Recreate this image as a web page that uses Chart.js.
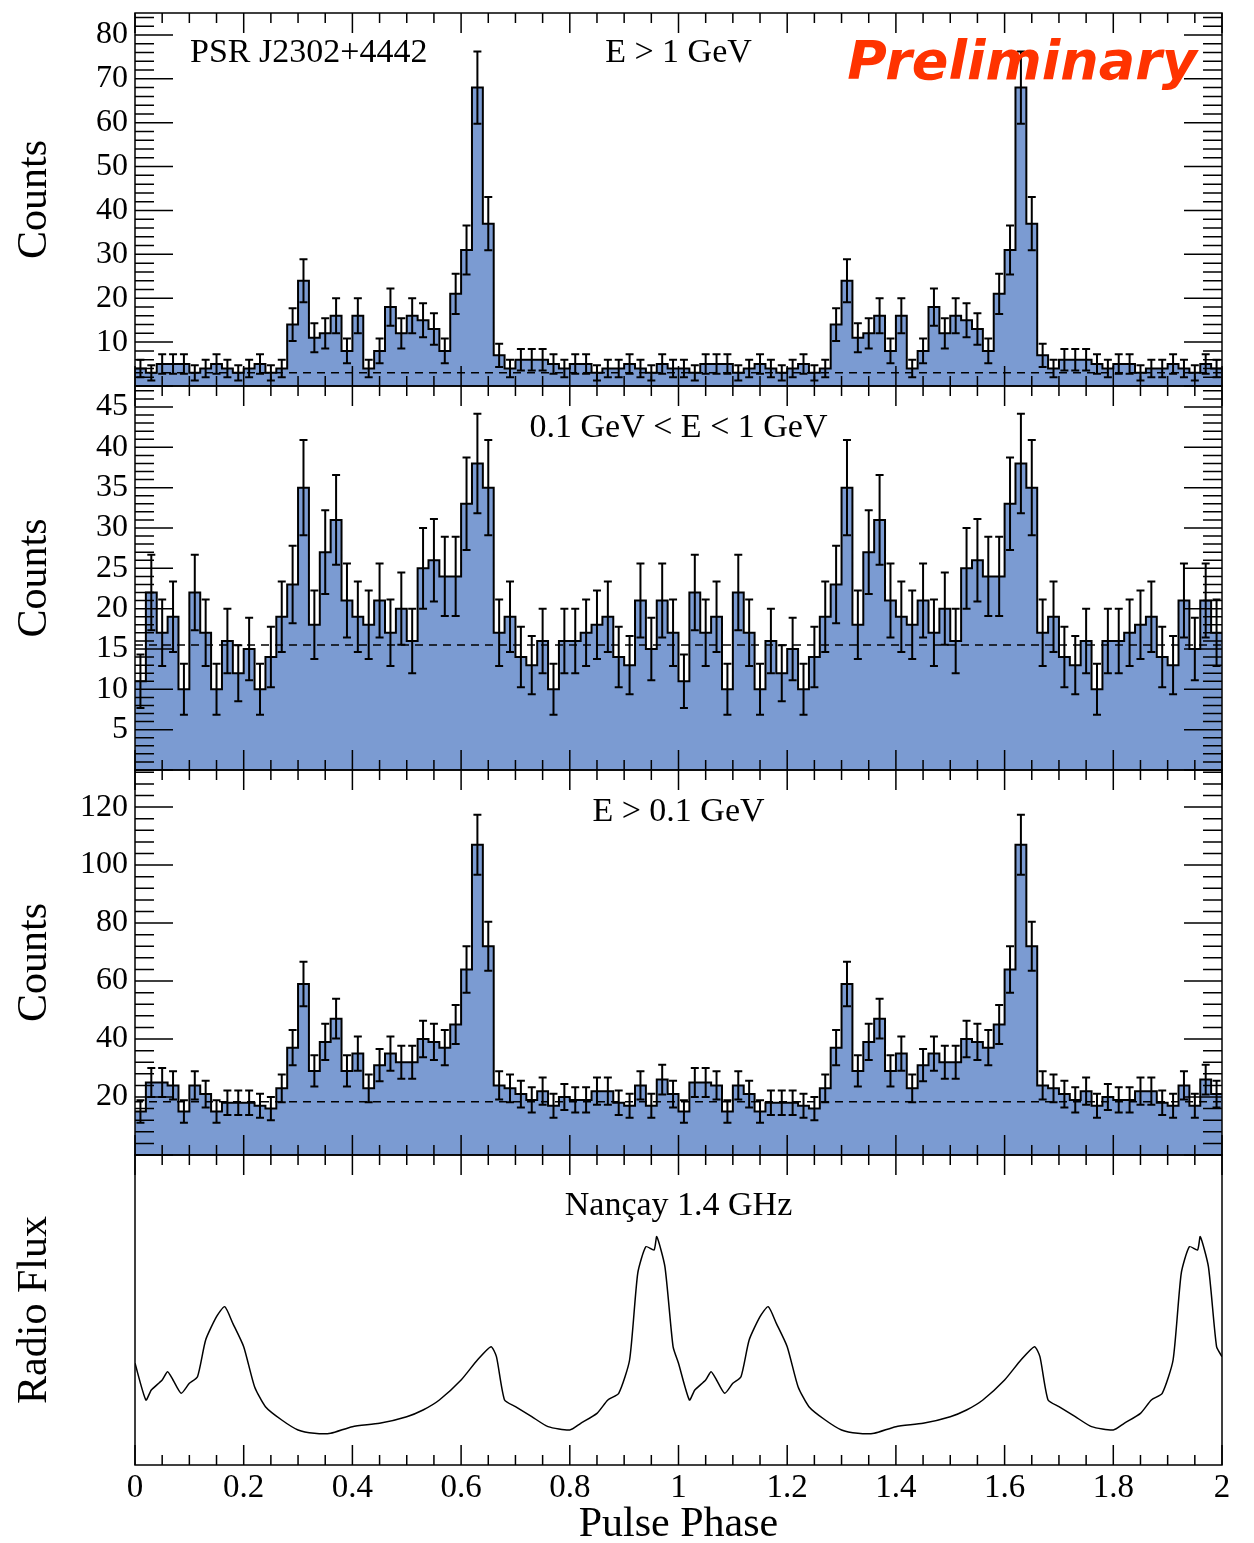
<!DOCTYPE html>
<html>
<head>
<meta charset="utf-8">
<script src="https://cdn.jsdelivr.net/npm/chart.js@4.4.1/dist/chart.umd.min.js"></script>
<style>
  body { margin: 0; background: #fff; }
  #wrap { width: 1254px; height: 1543px; }
</style>
</head>
<body>
<div id="wrap"><canvas id="Chart" width="1254" height="1543"></canvas></div>
<script>
// one rotation, 50 bins of 0.02 in phase; drawn twice (0-2)
const countsHigh = [4, 3, 5, 5, 5, 3, 4, 5, 4, 3, 4, 5, 3, 4, 14, 24, 11, 12, 16, 8,
                    16, 4, 8, 18, 12, 16, 15, 13, 8, 21, 31, 68, 37, 7, 4, 6, 6, 6, 5, 4,
                    5, 5, 3, 4, 4, 5, 4, 3, 5, 4];
const countsMid = [11, 22, 17, 19, 10, 22, 17, 10, 16, 12, 15, 10, 14, 19, 23, 35, 18, 27, 31, 21,
                   19, 18, 21, 17, 20, 16, 25, 26, 24, 24, 33, 38, 35, 17, 19, 14, 13, 16, 10, 16,
                   16, 17, 18, 19, 14, 13, 21, 15, 21, 17];
const countsAll = [15, 25, 25, 24, 15, 24, 21, 15, 18, 18, 18, 17, 16, 23, 37, 59, 29, 39, 47, 29,
                   35, 23, 31, 35, 32, 32, 40, 39, 37, 45, 64, 107, 72, 24, 23, 21, 19, 22, 17, 20,
                   19, 19, 22, 22, 18, 17, 24, 17, 26, 21];
const backgrounds = [3.0, 15.5, 18.4];

const radioPhase = [0, 0.02, 0.03, 0.05, 0.06, 0.07, 0.085, 0.1, 0.115, 0.13, 0.15, 0.165, 0.18, 0.2,
                    0.22, 0.24, 0.27, 0.3, 0.33, 0.36, 0.4, 0.45, 0.5, 0.53, 0.56, 0.6, 0.63, 0.655,
                    0.665, 0.68, 0.7, 0.73, 0.76, 0.8, 0.82, 0.85, 0.87, 0.89, 0.91, 0.925, 0.94,
                    0.955, 0.96, 0.975, 0.99];
const radioFlux = [2.9, 1.8, 2.1, 2.4, 2.65, 2.4, 2.0, 2.3, 2.5, 3.6, 4.3, 4.6, 4.1, 3.4,
                   2.2, 1.6, 1.2, 0.9, 0.8, 0.8, 1.0, 1.1, 1.3, 1.5, 1.8, 2.4, 3.0, 3.4,
                   3.1, 1.8, 1.6, 1.3, 1.0, 0.9, 1.1, 1.4, 1.8, 2.0, 3.0, 5.6, 6.4,
                   6.3, 6.7, 5.8, 3.4];
const radioEnd = 3.1;

const xTickLabels = ['0', '0.2', '0.4', '0.6', '0.8', '1', '1.2', '1.4', '1.6', '1.8', '2'];
const binWidth = 0.02;
const fillBlue = '#7b9bd2';
const serif = '"Liberation Serif", "DejaVu Serif", serif';

// left edge of every bin, plus a closing point at phase 2
function stepPoints(counts) {
    const pts = [];
    for (let r = 0; r < 2; r++) {
        counts.forEach((c, i) => pts.push({ x: (r * counts.length + i) * binWidth, y: c }));
    }
    pts.push({ x: 2, y: counts[counts.length - 1] });
    return pts;
}

function radioPoints() {
    const pts = [];
    for (let r = 0; r < 2; r++) {
        radioPhase.forEach((p, i) => pts.push({ x: r + p, y: radioFlux[i] }));
    }
    pts.push({ x: 2, y: radioEnd });
    return pts;
}

const panels = [
    { id: 'y1', counts: countsHigh, max: 85, major: 10, minor: 2, weight: 373 },
    { id: 'y2', counts: countsMid, max: 47.6, major: 5, minor: 1, weight: 384 },
    { id: 'y3', counts: countsAll, max: 132.8, major: 20, minor: 4, weight: 385 }
];

const datasets = [];
panels.forEach((p, k) => {
    datasets.push({
        type: 'line', data: [{ x: 0, y: backgrounds[k] }, { x: 2, y: backgrounds[k] }],
        yAxisID: p.id, borderColor: '#000', borderWidth: 1.5, borderDash: [8, 6],
        pointRadius: 0, fill: false, order: 0
    });
    datasets.push({
        type: 'line', data: stepPoints(p.counts), yAxisID: p.id, stepped: 'before',
        borderColor: '#000', borderWidth: 2, backgroundColor: fillBlue,
        pointRadius: 0, fill: 'origin', order: 1, errors: true
    });
});
datasets.push({
    type: 'line', data: radioPoints(), yAxisID: 'y4', borderColor: '#000', borderWidth: 1.5,
    pointRadius: 0, fill: false, tension: 0.2, order: 0
});

function yScale(p) {
    return {
        type: 'linear', position: 'left', stack: 'panels', stackWeight: p.weight,
        min: 0, max: p.max,
        grid: { display: false, drawTicks: false },
        border: { display: false },
        afterFit: s => { s.width = 135; s.paddingTop = 0; s.paddingBottom = 0; },
        afterBuildTicks: s => {
            s.ticks = [];
            for (let v = p.major; v <= p.max; v += p.major) s.ticks.push({ value: v });
        },
        ticks: { color: '#000', padding: 7, autoSkip: false, font: { family: serif, size: 32 } }
    };
}

const scales = {
    x: {
        type: 'linear', min: 0, max: 2,
        grid: { display: false, drawTicks: false },
        border: { display: false },
        afterFit: s => { s.height = 78; },
        afterBuildTicks: s => { s.ticks = xTickLabels.map(t => ({ value: parseFloat(t) })); },
        ticks: {
            color: '#000', padding: 4, maxRotation: 0, autoSkip: false,
            font: { family: serif, size: 33 },
            callback: v => xTickLabels.find(t => parseFloat(t) === v)
        }
    }
};
// stacked axes are laid out bottom-up, so the radio panel goes first
scales.y4 = {
    type: 'linear', position: 'left', stack: 'panels', stackWeight: 310,
    min: -0.15, max: 9.15,
    grid: { display: false, drawTicks: false }, border: { display: false },
    afterFit: s => { s.width = 135; },
    ticks: { display: false }
};
panels.slice().reverse().forEach(p => { scales[p.id] = yScale(p); });

// ROOT style frames, inner ticks, error bars and labels
const rootStyle = {
    id: 'rootStyle',
    afterDatasetsDraw(chart) {
        const ctx = chart.ctx;
        const x = chart.scales.x;
        const left = chart.chartArea.left, right = chart.chartArea.right;
        ctx.save();
        // error bars
        chart.data.datasets.forEach(ds => {
            if (!ds.errors) return;
            const ys = chart.scales[ds.yAxisID];
            ctx.strokeStyle = '#000';
            ctx.lineWidth = 2;
            ds.data.slice(0, -1).forEach(pt => {
                const cx = x.getPixelForValue(pt.x + binWidth / 2);
                const err = Math.sqrt(pt.y);
                const t = ys.getPixelForValue(pt.y + err);
                const b = ys.getPixelForValue(Math.max(pt.y - err, 0));
                ctx.beginPath();
                ctx.moveTo(cx, t); ctx.lineTo(cx, b);
                ctx.moveTo(cx - 4, t); ctx.lineTo(cx + 4, t);
                ctx.moveTo(cx - 4, b); ctx.lineTo(cx + 4, b);
                ctx.stroke();
            });
        });
        // frames and ticks
        const ids = ['y1', 'y2', 'y3', 'y4'];
        ids.forEach((id, k) => {
            const s = chart.scales[id];
            const top = s.top, bottom = s.bottom;
            ctx.strokeStyle = '#000';
            ctx.lineWidth = 1.5;
            ctx.strokeRect(left, top, right - left, bottom - top);
            ctx.beginPath();
            for (let i = 0; i <= 40; i++) {
                const px = x.getPixelForValue(i * 0.05);
                const len = (i % 4 === 0) ? 20 : 10;
                ctx.moveTo(px, top); ctx.lineTo(px, top + len);
                ctx.moveTo(px, bottom); ctx.lineTo(px, bottom - len);
            }
            if (k < 3) {
                const p = panels[k];
                for (let v = 0; v <= p.max; v += p.minor) {
                    const py = s.getPixelForValue(v);
                    const major = Math.abs(v / p.major - Math.round(v / p.major)) < 1e-6;
                    const len = major ? 38 : 19;
                    ctx.moveTo(left, py); ctx.lineTo(left + len, py);
                    ctx.moveTo(right, py); ctx.lineTo(right - len, py);
                }
            }
            ctx.stroke();
        });
        // texts
        const mid = x.getPixelForValue(1);
        ctx.fillStyle = '#000';
        ctx.textBaseline = 'middle';
        ctx.font = '34px ' + serif;
        ctx.textAlign = 'left';
        ctx.fillText('PSR J2302+4442', 190, chart.scales.y1.top + 40);
        ctx.textAlign = 'center';
        ctx.fillText('E > 1 GeV', mid, chart.scales.y1.top + 40);
        ctx.fillText('0.1 GeV < E < 1 GeV', mid, chart.scales.y2.top + 42);
        ctx.fillText('E > 0.1 GeV', mid, chart.scales.y3.top + 42);
        ctx.fillText('Nançay 1.4 GHz', mid, chart.scales.y4.top + 51);
        ctx.font = '42px ' + serif;
        ctx.fillText('Pulse Phase', mid, x.bottom - 18);
        ids.forEach(id => {
            const s = chart.scales[id];
            ctx.save();
            ctx.translate(35, (s.top + s.bottom) / 2);
            ctx.rotate(-Math.PI / 2);
            ctx.fillText(id === 'y4' ? 'Radio Flux' : 'Counts', 0, 0);
            ctx.restore();
        });
        ctx.fillStyle = '#ff3300';
        ctx.font = 'italic bold 54px "DejaVu Sans", sans-serif';
        ctx.textAlign = 'right';
        ctx.fillText('Preliminary', 1197, chart.scales.y1.top + 52);
        ctx.restore();
    }
};

const ctx = document.getElementById('Chart').getContext('2d');
const myChart = new Chart(ctx, {
    type: 'line',
    data: { datasets: datasets },
    options: {
        responsive: false,
        animation: false,
        devicePixelRatio: 1,
        layout: { padding: { left: 0, right: 32, top: 13, bottom: 0 } },
        plugins: { legend: { display: false }, tooltip: { enabled: false } },
        scales: scales
    },
    plugins: [rootStyle]
});
</script>
</body>
</html>
